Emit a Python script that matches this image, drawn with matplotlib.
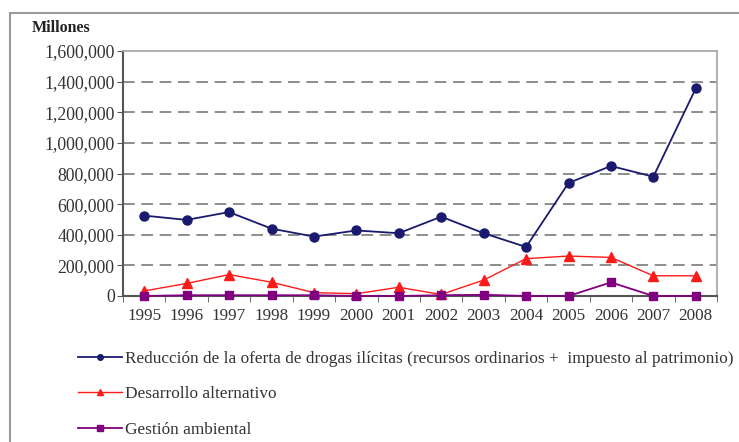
import matplotlib.pyplot as plt
from matplotlib.lines import Line2D
from matplotlib.patches import Rectangle
from matplotlib.ticker import FuncFormatter

plt.rcParams["font.family"] = ["Liberation Serif", "DejaVu Serif"]

# --- Data (millones) ---
years = ["1995", "1996", "1997", "1998", "1999", "2000", "2001",
         "2002", "2003", "2004", "2005", "2006", "2007", "2008"]
reduccion_oferta = [525000, 497000, 548000, 440000, 388000, 428000, 410000,
                    518000, 410000, 320000, 738000, 849000, 779000, 1356000]
desarrollo_alternativo = [33000, 82000, 140000, 90000, 22000, 15000, 57000,
                          10000, 104000, 244000, 261000, 252000, 132000, 132000]
gestion_ambiental = [0, 5000, 5000, 5000, 5000, 0, 0,
                     5000, 8000, 0, 0, 89000, 0, 0]

series_labels = [
    "Reducción de la oferta de drogas ilícitas (recursos ordinarios +  impuesto al patrimonio)",
    "Desarrollo alternativo",
    "Gestión ambiental",
]

blue = "#1a1a6e"
red = "#ff1a1a"
purple = "#800080"
text_color = "#333333"

fig = plt.figure(figsize=(7.39, 4.42), dpi=100)
ax = fig.add_axes([123 / 739, 1 - 296 / 442, (717 - 123) / 739, (296 - 51) / 442])

x = range(len(years))
ax.plot(x, reduccion_oferta, color=blue, marker="o", markersize=6.5, lw=1.3,
        zorder=5, clip_on=False)
ax.plot(x, desarrollo_alternativo, color=red, marker="^", markersize=7, lw=1.0,
        zorder=4, clip_on=False)
ax.plot(x, gestion_ambiental, color=purple, marker="s", markersize=6, lw=1.3,
        zorder=6, clip_on=False)

ax.set_xlim(-0.5, 13.5)
ax.set_ylim(0, 1600000)
ax.set_yticks(range(0, 1600001, 200000))
ax.yaxis.set_major_formatter(FuncFormatter(lambda v, p: f"{int(v):,}"))
ax.set_xticks(list(x))
ax.set_xticklabels(years)
ax.set_xticks([i - 0.5 for i in range(len(years) + 1)], minor=True)
ax.tick_params(axis="x", which="major", length=0, pad=9, labelsize=12.3, labelcolor=text_color)
ax.tick_params(axis="x", which="minor", length=4, direction="out", color="#555555")
ax.tick_params(axis="y", length=4, direction="out", color="#555555", labelsize=12.8,
               labelcolor=text_color, pad=2)

for v in range(200000, 1600000, 200000):
    ax.axhline(v, color="#7a7a7a", lw=1.2, ls=(0, (7, 4)), zorder=1)

for side in ("left", "bottom"):
    ax.spines[side].set_color("#555555")
    ax.spines[side].set_linewidth(1.5)
for side in ("top", "right"):
    ax.spines[side].set_color("#aaaaaa")
    ax.spines[side].set_linewidth(1.3)

fig.text(32 / 739, 1 - 28 / 442, "Millones", fontsize=11.5, fontweight="bold",
         color="#222222", va="center", ha="left")

# outer frame
fig.patches.append(Rectangle((10 / 739, -0.1), 1.2, 1 - 13 / 442 + 0.1,
                             transform=fig.transFigure, fill=False,
                             edgecolor="#999999", lw=1.5))

# legend
handles = [
    Line2D([], [], color=blue, marker="o", markersize=4, lw=1.3),
    Line2D([], [], color=red, marker="^", markersize=4.5, lw=1.0),
    Line2D([], [], color=purple, marker="s", markersize=4, lw=1.3),
]
fig.legend(handles, series_labels, loc="upper left",
           bbox_to_anchor=(62 / 739, 1 - 335 / 442), frameon=False,
           fontsize=12.4, handlelength=2.6, handletextpad=0.15,
           labelspacing=1.15, labelcolor=text_color)

fig.savefig("out.png", dpi=100)
